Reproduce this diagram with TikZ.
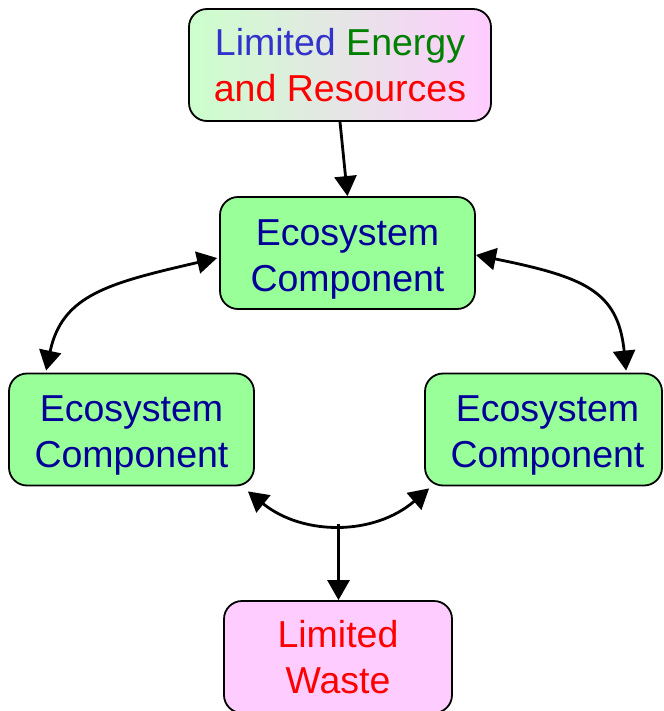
\documentclass[tikz,border=0pt]{standalone}
\usepackage{fontspec}
\setmainfont{Liberation Sans}
\usetikzlibrary{arrows.meta,calc}

\definecolor{ecofill}{HTML}{99FF99}
\definecolor{econavy}{HTML}{000099}
\definecolor{wastefill}{HTML}{FFCCFF}
\definecolor{lightgreen}{HTML}{CCFFCC}
\definecolor{limblue}{HTML}{3333CC}
\definecolor{energygreen}{HTML}{008000}
\definecolor{limred}{HTML}{FF0000}

% strut that sets the first line of an ecosystem box a little lower
\newcommand{\ecostrut}{\rule{0pt}{38pt}}

\begin{document}
\begin{tikzpicture}[x=1pt,y=-1pt,
  box/.style={draw=black, line width=1.8pt, rounded corners=18pt,
    align=center, inner sep=0pt,
    font=\fontsize{37.5}{46}\selectfont},
  ecobox/.style={box, fill=ecofill, text=econavy, minimum height=112pt},
  link/.style={line width=2.8pt, -{Triangle[length=20pt,width=22pt]}},
  twoway/.style={line width=2.8pt,
    {Triangle[length=20pt,width=22pt]}-{Triangle[length=20pt,width=22pt]}}]

\useasboundingbox (0,0) rectangle (663,711);
\clip (0,0) rectangle (663,711);

% boxes
\node[box, minimum width=302pt, minimum height=112pt,
      left color=lightgreen, right color=wastefill]
  (source) at (340,65)
  {\textcolor{limblue}{Limited} \textcolor{energygreen}{Energy}\\
   \textcolor{limred}{and Resources}};
\node[ecobox, minimum width=255pt] (eco) at (347.5,253)
  {\ecostrut Ecosystem\\Component};
\node[ecobox, minimum width=245pt] (lbox) at (131.5,429.5)
  {\ecostrut Ecosystem\\Component};
\node[ecobox, minimum width=237pt] (rbox) at (543.5,429.5)
  {\hspace*{8pt}\ecostrut Ecosystem\\\hspace*{8pt}Component};
\node[box, fill=wastefill, text=limred, minimum width=228pt, minimum height=112pt]
  (waste) at (338,657) {Limited\\Waste};

% connectors
\draw[link] (source.south) -- (eco.north);

\draw[twoway] ($(eco.west)+(-2,5)$)
  .. controls +(-108,25) and +(16,-76) .. ($(lbox.north west)+(38,-2)$);

\draw[twoway] ($(eco.east)+(0,2)$)
  .. controls +(108,22) and +(-8,-80) .. ($(rbox.north west)+(202,-2)$);

\draw[twoway] ($(lbox.south east)+(-7,5)$)
  .. controls +(55,44.5) and +(-55,47.5) .. ($(rbox.south west)+(5,2)$)
  coordinate[pos=0.5] (join);

\draw[link] (join) -- (join |- waste.north);

\end{tikzpicture}
\end{document}
